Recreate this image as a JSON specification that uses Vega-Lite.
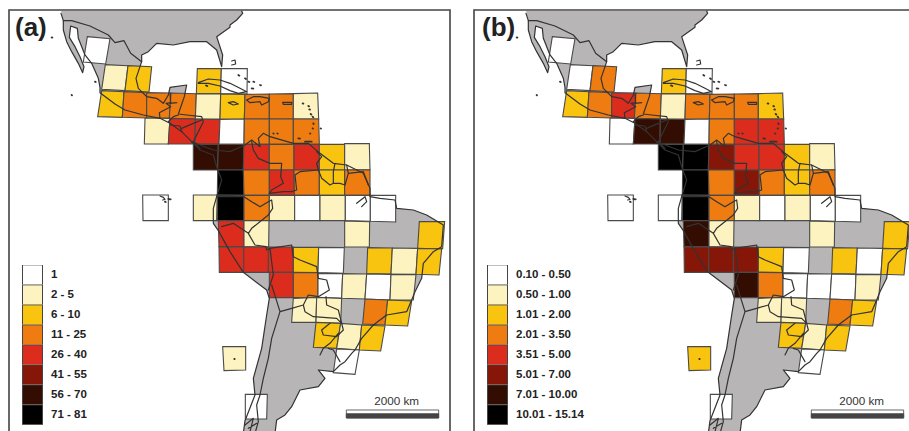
{"$schema":"https://vega.github.io/schema/vega-lite/v6.json","background":"white","padding":{"left":8,"top":9,"right":0,"bottom":0},"spacing":22,"config":{"font":"Liberation Sans"},
"datasets":{
"land":[
{"type":"Feature","properties":{"n":"north"},"geometry":{"type":"Polygon","coordinates":[[[183,33],[190,62],[190,90],[200,125],[215,155],[235,190],[248,218],[252,200],[240,170],[225,140],[208,112],[212,78],[232,85],[235,115],[255,165],[275,190],[295,235],[300,262],[300,278],[345,312],[375,330],[430,345],[480,355],[510,370],[545,395],[575,425],[590,435],[600,445],[580,425],[610,365],[605,350],[560,345],[535,342],[553,290],[560,255],[510,262],[505,285],[490,310],[470,295],[440,290],[415,265],[408,235],[420,200],[425,185],[425,165],[445,155],[470,130],[520,135],[570,125],[620,125],[650,150],[665,200],[668,165],[650,110],[690,82],[690,75],[710,60],[728,40],[725,33],[183,33]]]}},
{"type":"Feature","properties":{"n":"south"},"geometry":{"type":"Polygon","coordinates":[[[575,425],[600,450],[640,465],[650,500],[665,540],[650,590],[640,625],[640,670],[655,692],[690,755],[730,817],[800,870],[808,895],[800,945],[785,1045],[760,1135],[765,1185],[735,1262],[730,1300],[825,1300],[830,1260],[855,1245],[875,1220],[900,1170],[955,1160],[975,1135],[955,1110],[1000,1115],[1020,1095],[1035,1085],[1055,1060],[1065,1050],[1085,1015],[1120,975],[1160,945],[1220,935],[1235,900],[1245,875],[1265,835],[1270,790],[1300,755],[1325,740],[1330,675],[1280,645],[1240,630],[1190,625],[1185,600],[1140,595],[1110,590],[1110,565],[1090,520],[1040,495],[1000,490],[960,460],[925,430],[880,430],[810,410],[790,400],[775,415],[780,440],[755,420],[735,435],[690,455],[640,450],[600,435],[575,425]]]}}
],
"lines":[
{"type":"Feature","properties":{"n":"north coast"},"geometry":{"type":"MultiLineString","coordinates":[[[183,40],[190,62],[190,90],[200,125],[215,155],[235,190],[248,218],[252,200],[240,170],[225,140],[208,112],[212,78],[232,85],[235,115],[255,165],[275,190],[295,235],[300,262],[300,278],[345,312],[375,330],[430,345],[480,355],[510,370],[545,395],[575,425],[590,435],[600,445]],[[600,445],[580,425],[610,365],[605,350],[560,345],[535,342],[553,290],[560,255],[510,262],[505,285],[490,310],[470,295],[440,290],[415,265],[408,235],[420,200],[425,185],[425,165],[445,155],[470,130],[520,135],[570,125],[620,125],[650,150],[665,200],[668,165],[650,110],[690,82],[690,75],[710,60],[728,40],[725,33]]]}},
{"type":"Feature","properties":{"n":"south coast"},"geometry":{"type":"LineString","coordinates":[[575,425],[600,450],[640,465],[650,500],[665,540],[650,590],[640,625],[640,670],[655,692],[690,755],[730,817],[800,870],[808,895],[800,945],[785,1045],[760,1135],[765,1185],[735,1262],[730,1300]]}},
{"type":"Feature","properties":{"n":"south coast east"},"geometry":{"type":"LineString","coordinates":[[825,1300],[830,1260],[855,1245],[875,1220],[900,1170],[955,1160],[975,1135],[955,1110],[1000,1115],[1020,1095],[1035,1085],[1055,1060],[1065,1050],[1085,1015],[1120,975],[1160,945],[1220,935],[1235,900],[1245,875],[1265,835],[1270,790],[1300,755],[1325,740],[1330,675],[1280,645],[1240,630],[1190,625],[1185,600],[1140,595],[1110,590],[1110,565],[1090,520],[1040,495],[1000,490],[960,460],[925,430],[880,430],[810,410],[790,400],[775,415],[780,440],[755,420],[735,435],[690,455],[640,450],[600,435],[575,425]]}},
{"type":"Feature","properties":{"n":"borders"},"geometry":{"type":"MultiLineString","coordinates":[[[190,62],[215,62],[270,78],[325,105],[345,128],[372,122],[392,160],[425,185]],[[480,355],[478,338],[512,320],[498,310],[512,308],[510,280]],[[510,310],[530,308]],[[505,365],[520,350],[535,345]],[[510,375],[540,378],[545,395]],[[545,385],[580,370],[605,360]],[[755,425],[760,450],[775,475],[810,490],[845,490],[842,530],[850,550],[815,570],[808,580]],[[808,580],[850,575],[875,575],[890,570],[885,525],[900,515],[955,510],[950,490],[965,470],[950,455]],[[955,510],[965,535],[990,555],[1000,550],[1000,515],[1005,490]],[[1000,550],[1020,550],[1035,555],[1045,520],[1040,495]],[[1045,520],[1090,515],[1105,555]],[[732,590],[755,605],[780,620],[805,605],[815,600],[818,625],[805,645],[755,685],[745,700],[765,735],[798,740],[800,750],[810,745],[875,735],[880,770],[900,780],[950,800],[955,835],[980,840],[988,870],[955,890],[925,885],[910,915],[915,935],[940,950],[1010,955],[1025,970],[1030,990],[1010,1010],[970,1005],[965,990],[990,970]],[[978,890],[980,915],[1015,930],[1025,970]],[[810,745],[820,825],[810,855],[805,870]],[[815,855],[840,935],[875,925],[910,915]],[[840,935],[815,1015],[805,1075],[790,1135],[780,1185],[770,1215],[775,1265],[765,1300]],[[1015,1000],[990,1030],[970,1045],[960,1065]],[[985,1045],[1000,1050],[1020,1085]],[[650,590],[690,590],[732,590]],[[665,680],[700,670],[745,700]],[[735,1275],[760,1255],[750,1295]],[[745,1285],[770,1270]]]}},
{"type":"Feature","properties":{"n":"islands"},"geometry":{"type":"MultiLineString","coordinates":[[[595,248],[625,237],[660,240],[690,250],[720,265],[740,275],[715,280],[690,272],[660,258],[625,250],[595,250]],[[685,308],[700,305],[715,312],[700,315],[685,308]],[[740,300],[760,290],[780,290],[808,295],[805,305],[785,315],[780,305],[750,308],[740,300]],[[848,307],[875,307],[875,313],[850,313],[848,307]],[[695,183],[705,180],[707,192],[695,195]],[[480,588],[490,592],[495,598],[488,600]],[[1070,610],[1095,590],[1100,605],[1085,620]]]}}
],
"dots":[
{"type":"Feature","properties":{"n":"small islands"},"geometry":{"type":"MultiLineString","coordinates":[[[618,256],[622,258]],[[908,310],[910,311]],[[925,318],[927,319]],[[928,328],[930,329]],[[932,342],[934,344]],[[938,350],[940,352]],[[940,370],[941,372]],[[938,385],[939,386]],[[930,400],[931,401]],[[962,385],[963,386]],[[715,225],[718,227]],[[735,235],[738,237]],[[745,245],[748,246]],[[760,245],[763,246]],[[780,255],[783,256]],[[755,265],[760,266]],[[820,400],[821,401]],[[832,400],[833,401]],[[895,415],[900,416]],[[915,425],[935,425]],[[505,597],[512,598]],[[495,605],[497,606]],[[155,112],[157,113]],[[215,285],[216,286]],[[285,245],[287,246]],[[703,1077],[704,1077]]]}}
],
"cells":[
{"type":"Feature","properties":{"a":"1","b":"0.10 - 0.50"},"geometry":{"type":"Polygon","coordinates":[[[262,110],[330,116],[317,192],[250,186],[262,110]]]}},
{"type":"Feature","properties":{"a":"2 - 5","b":"0.10 - 0.50"},"geometry":{"type":"Polygon","coordinates":[[[316,194],[384,197],[375,272],[305,268],[316,194]]]}},
{"type":"Feature","properties":{"a":"6 - 10","b":"2.01 - 3.50"},"geometry":{"type":"Polygon","coordinates":[[[384,197],[455,200],[447,276],[375,272],[384,197]]]}},
{"type":"Feature","properties":{"a":"6 - 10","b":"1.01 - 2.00"},"geometry":{"type":"Polygon","coordinates":[[[592,206],[664,206],[662,281],[589,281],[592,206]]]}},
{"type":"Feature","properties":{"a":"1","b":"0.10 - 0.50"},"geometry":{"type":"Polygon","coordinates":[[[664,206],[742,206],[741,282],[662,281],[664,206]]]}},
{"type":"Feature","properties":{"a":"6 - 10","b":"1.01 - 2.00"},"geometry":{"type":"Polygon","coordinates":[[[305,272],[372,275],[367,352],[293,350],[305,272]]]}},
{"type":"Feature","properties":{"a":"11 - 25","b":"2.01 - 3.50"},"geometry":{"type":"Polygon","coordinates":[[[372,275],[440,278],[440,354],[367,352],[372,275]]]}},
{"type":"Feature","properties":{"a":"11 - 25","b":"3.51 - 5.00"},"geometry":{"type":"Polygon","coordinates":[[[440,278],[513,279],[508,355],[440,354],[440,278]]]}},
{"type":"Feature","properties":{"a":"11 - 25","b":"2.01 - 3.50"},"geometry":{"type":"Polygon","coordinates":[[[513,279],[589,281],[586,357],[508,355],[513,279]]]}},
{"type":"Feature","properties":{"a":"2 - 5","b":"0.50 - 1.00"},"geometry":{"type":"Polygon","coordinates":[[[589,281],[662,282],[660,358],[586,357],[589,281]]]}},
{"type":"Feature","properties":{"a":"6 - 10","b":"2.01 - 3.50"},"geometry":{"type":"Polygon","coordinates":[[[662,282],[735,283],[733,357],[660,358],[662,282]]]}},
{"type":"Feature","properties":{"a":"11 - 25","b":"2.01 - 3.50"},"geometry":{"type":"Polygon","coordinates":[[[735,283],[808,282],[808,357],[733,357],[735,283]]]}},
{"type":"Feature","properties":{"a":"11 - 25","b":"2.01 - 3.50"},"geometry":{"type":"Polygon","coordinates":[[[808,282],[880,281],[880,357],[808,357],[808,282]]]}},
{"type":"Feature","properties":{"a":"2 - 5","b":"1.01 - 2.00"},"geometry":{"type":"Polygon","coordinates":[[[880,281],[953,279],[956,357],[880,357],[880,281]]]}},
{"type":"Feature","properties":{"a":"2 - 5","b":"0.10 - 0.50"},"geometry":{"type":"Polygon","coordinates":[[[435,354],[510,355],[505,432],[433,432],[435,354]]]}},
{"type":"Feature","properties":{"a":"26 - 40","b":"7.01 - 10.00"},"geometry":{"type":"Polygon","coordinates":[[[510,355],[586,357],[585,432],[505,432],[510,355]]]}},
{"type":"Feature","properties":{"a":"26 - 40","b":"7.01 - 10.00"},"geometry":{"type":"Polygon","coordinates":[[[586,357],[660,358],[657,432],[585,432],[586,357]]]}},
{"type":"Feature","properties":{"a":"1","b":"0.10 - 0.50"},"geometry":{"type":"Polygon","coordinates":[[[660,358],[733,357],[732,433],[657,432],[660,358]]]}},
{"type":"Feature","properties":{"a":"11 - 25","b":"2.01 - 3.50"},"geometry":{"type":"Polygon","coordinates":[[[733,357],[808,357],[808,433],[732,433],[733,357]]]}},
{"type":"Feature","properties":{"a":"11 - 25","b":"3.51 - 5.00"},"geometry":{"type":"Polygon","coordinates":[[[808,357],[880,357],[880,433],[808,433],[808,357]]]}},
{"type":"Feature","properties":{"a":"11 - 25","b":"3.51 - 5.00"},"geometry":{"type":"Polygon","coordinates":[[[880,357],[956,357],[958,433],[880,433],[880,357]]]}},
{"type":"Feature","properties":{"a":"56 - 70","b":"10.01 - 15.14"},"geometry":{"type":"Polygon","coordinates":[[[580,433],[655,433],[653,510],[580,510],[580,433]]]}},
{"type":"Feature","properties":{"a":"56 - 70","b":"10.01 - 15.14"},"geometry":{"type":"Polygon","coordinates":[[[655,433],[732,433],[730,510],[653,510],[655,433]]]}},
{"type":"Feature","properties":{"a":"26 - 40","b":"5.01 - 7.00"},"geometry":{"type":"Polygon","coordinates":[[[732,433],[808,433],[808,510],[730,510],[732,433]]]}},
{"type":"Feature","properties":{"a":"11 - 25","b":"3.51 - 5.00"},"geometry":{"type":"Polygon","coordinates":[[[808,433],[882,433],[882,510],[808,510],[808,433]]]}},
{"type":"Feature","properties":{"a":"26 - 40","b":"3.51 - 5.00"},"geometry":{"type":"Polygon","coordinates":[[[882,433],[958,433],[958,510],[882,510],[882,433]]]}},
{"type":"Feature","properties":{"a":"6 - 10","b":"1.01 - 2.00"},"geometry":{"type":"Polygon","coordinates":[[[958,433],[1034,433],[1034,510],[958,510],[958,433]]]}},
{"type":"Feature","properties":{"a":"2 - 5","b":"0.50 - 1.00"},"geometry":{"type":"Polygon","coordinates":[[[1034,431],[1108,431],[1110,509],[1034,510],[1034,431]]]}},
{"type":"Feature","properties":{"a":"71 - 81","b":"10.01 - 15.14"},"geometry":{"type":"Polygon","coordinates":[[[653,510],[730,510],[732,586],[652,585],[653,510]]]}},
{"type":"Feature","properties":{"a":"11 - 25","b":"2.01 - 3.50"},"geometry":{"type":"Polygon","coordinates":[[[730,510],[808,510],[808,586],[732,586],[730,510]]]}},
{"type":"Feature","properties":{"a":"26 - 40","b":"5.01 - 7.00"},"geometry":{"type":"Polygon","coordinates":[[[808,510],[882,510],[883,586],[808,586],[808,510]]]}},
{"type":"Feature","properties":{"a":"11 - 25","b":"2.01 - 3.50"},"geometry":{"type":"Polygon","coordinates":[[[882,510],[958,510],[958,586],[883,586],[882,510]]]}},
{"type":"Feature","properties":{"a":"6 - 10","b":"1.01 - 2.00"},"geometry":{"type":"Polygon","coordinates":[[[958,510],[1034,510],[1034,586],[958,586],[958,510]]]}},
{"type":"Feature","properties":{"a":"11 - 25","b":"2.01 - 3.50"},"geometry":{"type":"Polygon","coordinates":[[[1034,510],[1110,510],[1110,586],[1034,586],[1034,510]]]}},
{"type":"Feature","properties":{"a":"1","b":"0.10 - 0.50"},"geometry":{"type":"Polygon","coordinates":[[[428,585],[505,585],[505,662],[429,662],[428,585]]]}},
{"type":"Feature","properties":{"a":"2 - 5","b":"0.10 - 0.50"},"geometry":{"type":"Polygon","coordinates":[[[580,585],[652,585],[650,662],[580,662],[580,585]]]}},
{"type":"Feature","properties":{"a":"71 - 81","b":"10.01 - 15.14"},"geometry":{"type":"Polygon","coordinates":[[[652,585],[732,586],[732,662],[652,662],[652,585]]]}},
{"type":"Feature","properties":{"a":"11 - 25","b":"2.01 - 3.50"},"geometry":{"type":"Polygon","coordinates":[[[732,586],[808,586],[808,662],[732,662],[732,586]]]}},
{"type":"Feature","properties":{"a":"2 - 5","b":"0.50 - 1.00"},"geometry":{"type":"Polygon","coordinates":[[[808,586],[884,586],[884,662],[808,662],[808,586]]]}},
{"type":"Feature","properties":{"a":"1","b":"0.10 - 0.50"},"geometry":{"type":"Polygon","coordinates":[[[884,586],[960,586],[960,662],[884,662],[884,586]]]}},
{"type":"Feature","properties":{"a":"2 - 5","b":"0.50 - 1.00"},"geometry":{"type":"Polygon","coordinates":[[[960,586],[1036,586],[1036,662],[960,662],[960,586]]]}},
{"type":"Feature","properties":{"a":"1","b":"0.10 - 0.50"},"geometry":{"type":"Polygon","coordinates":[[[1036,586],[1111,586],[1111,664],[1036,662],[1036,586]]]}},
{"type":"Feature","properties":{"a":"1","b":"0.10 - 0.50"},"geometry":{"type":"Polygon","coordinates":[[[1111,586],[1187,586],[1187,666],[1111,664],[1111,586]]]}},
{"type":"Feature","properties":{"a":"26 - 40","b":"7.01 - 10.00"},"geometry":{"type":"Polygon","coordinates":[[[655,662],[732,662],[732,740],[657,740],[655,662]]]}},
{"type":"Feature","properties":{"a":"2 - 5","b":"0.50 - 1.00"},"geometry":{"type":"Polygon","coordinates":[[[732,662],[807,662],[806,741],[732,740],[732,662]]]}},
{"type":"Feature","properties":{"a":"2 - 5","b":"0.50 - 1.00"},"geometry":{"type":"Polygon","coordinates":[[[1034,663],[1109,665],[1108,741],[1034,741],[1034,663]]]}},
{"type":"Feature","properties":{"a":"6 - 10","b":"1.01 - 2.00"},"geometry":{"type":"Polygon","coordinates":[[[1258,665],[1334,665],[1328,746],[1253,745],[1258,665]]]}},
{"type":"Feature","properties":{"a":"26 - 40","b":"5.01 - 7.00"},"geometry":{"type":"Polygon","coordinates":[[[657,740],[731,741],[731,817],[658,817],[657,740]]]}},
{"type":"Feature","properties":{"a":"26 - 40","b":"5.01 - 7.00"},"geometry":{"type":"Polygon","coordinates":[[[731,741],[806,741],[805,817],[731,817],[731,741]]]}},
{"type":"Feature","properties":{"a":"26 - 40","b":"5.01 - 7.00"},"geometry":{"type":"Polygon","coordinates":[[[805,741],[880,741],[880,817],[805,817],[805,741]]]}},
{"type":"Feature","properties":{"a":"6 - 10","b":"1.01 - 2.00"},"geometry":{"type":"Polygon","coordinates":[[[880,742],[956,742],[954,818],[880,817],[880,742]]]}},
{"type":"Feature","properties":{"a":"1","b":"0.10 - 0.50"},"geometry":{"type":"Polygon","coordinates":[[[956,742],[1033,743],[1030,820],[954,818],[956,742]]]}},
{"type":"Feature","properties":{"a":"6 - 10","b":"1.01 - 2.00"},"geometry":{"type":"Polygon","coordinates":[[[1103,743],[1177,744],[1173,822],[1100,821],[1103,743]]]}},
{"type":"Feature","properties":{"a":"2 - 5","b":"0.10 - 0.50"},"geometry":{"type":"Polygon","coordinates":[[[1177,744],[1253,745],[1248,823],[1173,822],[1177,744]]]}},
{"type":"Feature","properties":{"a":"6 - 10","b":"1.01 - 2.00"},"geometry":{"type":"Polygon","coordinates":[[[1253,745],[1325,747],[1317,825],[1248,823],[1253,745]]]}},
{"type":"Feature","properties":{"a":"26 - 40","b":"7.01 - 10.00"},"geometry":{"type":"Polygon","coordinates":[[[808,817],[880,817],[880,893],[808,893],[808,817]]]}},
{"type":"Feature","properties":{"a":"11 - 25","b":"2.01 - 3.50"},"geometry":{"type":"Polygon","coordinates":[[[880,817],[954,818],[954,892],[880,893],[880,817]]]}},
{"type":"Feature","properties":{"a":"1","b":"0.10 - 0.50"},"geometry":{"type":"Polygon","coordinates":[[[954,820],[1028,821],[1025,895],[954,892],[954,820]]]}},
{"type":"Feature","properties":{"a":"2 - 5","b":"0.10 - 0.50"},"geometry":{"type":"Polygon","coordinates":[[[1028,821],[1100,822],[1095,897],[1025,895],[1028,821]]]}},
{"type":"Feature","properties":{"a":"1","b":"0.10 - 0.50"},"geometry":{"type":"Polygon","coordinates":[[[1100,822],[1173,823],[1170,900],[1095,897],[1100,822]]]}},
{"type":"Feature","properties":{"a":"2 - 5","b":"0.50 - 1.00"},"geometry":{"type":"Polygon","coordinates":[[[1173,823],[1248,824],[1240,900],[1170,900],[1173,823]]]}},
{"type":"Feature","properties":{"a":"2 - 5","b":"0.50 - 1.00"},"geometry":{"type":"Polygon","coordinates":[[[880,895],[950,892],[948,967],[875,967],[880,895]]]}},
{"type":"Feature","properties":{"a":"2 - 5","b":"0.50 - 1.00"},"geometry":{"type":"Polygon","coordinates":[[[950,892],[1025,895],[1022,970],[948,967],[950,892]]]}},
{"type":"Feature","properties":{"a":"11 - 25","b":"2.01 - 3.50"},"geometry":{"type":"Polygon","coordinates":[[[1095,897],[1163,900],[1155,975],[1088,972],[1095,897]]]}},
{"type":"Feature","properties":{"a":"6 - 10","b":"1.01 - 2.00"},"geometry":{"type":"Polygon","coordinates":[[[1163,900],[1235,903],[1223,978],[1155,975],[1163,900]]]}},
{"type":"Feature","properties":{"a":"6 - 10","b":"1.01 - 2.00"},"geometry":{"type":"Polygon","coordinates":[[[948,967],[1022,970],[1010,1045],[940,1042],[948,967]]]}},
{"type":"Feature","properties":{"a":"2 - 5","b":"0.50 - 1.00"},"geometry":{"type":"Polygon","coordinates":[[[1022,970],[1085,975],[1078,1050],[1010,1045],[1022,970]]]}},
{"type":"Feature","properties":{"a":"6 - 10","b":"1.01 - 2.00"},"geometry":{"type":"Polygon","coordinates":[[[1085,975],[1155,978],[1142,1053],[1078,1050],[1085,975]]]}},
{"type":"Feature","properties":{"a":"1","b":"0.10 - 0.50"},"geometry":{"type":"Polygon","coordinates":[[[1010,1047],[1078,1050],[1065,1123],[1000,1118],[1010,1047]]]}},
{"type":"Feature","properties":{"a":"1","b":"0.10 - 0.50"},"geometry":{"type":"Polygon","coordinates":[[[736,1183],[802,1183],[800,1257],[736,1257],[736,1183]]]}},
{"type":"Feature","properties":{"a":"2 - 5","b":"1.01 - 2.00"},"geometry":{"type":"Polygon","coordinates":[[[668,1040],[737,1040],[737,1110],[672,1112],[668,1040]]]}}
],
"bar":[
{"type":"Feature","properties":{"part":"outer"},"geometry":{"type":"Polygon","coordinates":[[[1039,1230],[1316,1230],[1316,1254],[1039,1254],[1039,1230]]]}},
{"type":"Feature","properties":{"part":"lower"},"geometry":{"type":"Polygon","coordinates":[[[1039,1241],[1316,1241],[1316,1254],[1039,1254],[1039,1241]]]}}
]
},
"hconcat":[
{"width":441,"height":425,"view":{"stroke":"#444","strokeWidth":1.6},"projection":{"type":"identity","scale":0.33333,"translate":[-9,-10]},"layer":[
{"data":{"name":"land"},"mark":{"type":"geoshape","fill":"#b7b5b5","stroke":null,"clip":true}},
{"data":{"name":"cells"},"mark":{"type":"geoshape","stroke":"#4a4a4a","strokeWidth":1.1},"encoding":{"fill":{"field":"properties.a","type":"nominal","scale":{"domain":["1","2 - 5","6 - 10","11 - 25","26 - 40","41 - 55","56 - 70","71 - 81"],"range":["#ffffff","#fdf3c0","#f8c410","#ee7c10","#dc2c1e","#861608","#330d02","#000000"]},"legend":{"title":null,"orient":"none","legendX":13,"legendY":255,"symbolType":"square","symbolSize":400,"symbolStrokeColor":"#444","symbolStrokeWidth":1,"symbolOpacity":1,"rowPadding":0,"clipHeight":19.7,"labelFont":"Liberation Sans","labelFontSize":11.5,"labelFontWeight":"bold","labelColor":"#222","labelOffset":8,"values":["1","2 - 5","6 - 10","11 - 25","26 - 40","41 - 55","56 - 70","71 - 81"]}}}},
{"data":{"name":"lines"},"mark":{"type":"geoshape","filled":false,"stroke":"#333","strokeWidth":1.2,"strokeCap":"round","strokeJoin":"round","clip":true}},
{"data":{"name":"dots"},"mark":{"type":"geoshape","filled":false,"stroke":"#333","strokeWidth":1.8,"strokeCap":"round","clip":true}},
{"data":{"name":"bar"},"mark":{"type":"geoshape","stroke":"#444","strokeWidth":0.8},"encoding":{"fill":{"field":"properties.part","type":"nominal","scale":{"domain":["outer","lower"],"range":["#ffffff","#444444"]},"legend":null}}},
{"data":{"values":[{"E":45,"N":108,"t":"(a)"}]},"mark":{"type":"text","align":"left","baseline":"alphabetic","font":"Liberation Sans","fontWeight":"bold","fontSize":26,"color":"#222"},"encoding":{"longitude":{"field":"E","type":"quantitative"},"latitude":{"field":"N","type":"quantitative"},"text":{"field":"t","type":"nominal"}}},
{"data":{"values":[{"E":1190,"N":1215,"t":"2000 km"}]},"mark":{"type":"text","align":"center","baseline":"alphabetic","font":"Liberation Sans","fontSize":11.7,"color":"#333"},"encoding":{"longitude":{"field":"E","type":"quantitative"},"latitude":{"field":"N","type":"quantitative"},"text":{"field":"t","type":"nominal"}}}
],"resolve":{"scale":{"fill":"independent"}}},
{"width":441,"height":425,"view":{"stroke":"#444","strokeWidth":1.6},"projection":{"type":"identity","scale":0.33333,"translate":[-9,-10]},"layer":[
{"data":{"name":"land"},"mark":{"type":"geoshape","fill":"#b7b5b5","stroke":null,"clip":true}},
{"data":{"name":"cells"},"mark":{"type":"geoshape","stroke":"#4a4a4a","strokeWidth":1.1},"encoding":{"fill":{"field":"properties.b","type":"nominal","scale":{"domain":["0.10 - 0.50","0.50 - 1.00","1.01 - 2.00","2.01 - 3.50","3.51 - 5.00","5.01 - 7.00","7.01 - 10.00","10.01 - 15.14"],"range":["#ffffff","#fdf3c0","#f8c410","#ee7c10","#dc2c1e","#861608","#330d02","#000000"]},"legend":{"title":null,"orient":"none","legendX":13,"legendY":255,"symbolType":"square","symbolSize":400,"symbolStrokeColor":"#444","symbolStrokeWidth":1,"symbolOpacity":1,"rowPadding":0,"clipHeight":19.7,"labelFont":"Liberation Sans","labelFontSize":11.5,"labelFontWeight":"bold","labelColor":"#222","labelOffset":8,"values":["0.10 - 0.50","0.50 - 1.00","1.01 - 2.00","2.01 - 3.50","3.51 - 5.00","5.01 - 7.00","7.01 - 10.00","10.01 - 15.14"]}}}},
{"data":{"name":"lines"},"mark":{"type":"geoshape","filled":false,"stroke":"#333","strokeWidth":1.2,"strokeCap":"round","strokeJoin":"round","clip":true}},
{"data":{"name":"dots"},"mark":{"type":"geoshape","filled":false,"stroke":"#333","strokeWidth":1.8,"strokeCap":"round","clip":true}},
{"data":{"name":"bar"},"mark":{"type":"geoshape","stroke":"#444","strokeWidth":0.8},"encoding":{"fill":{"field":"properties.part","type":"nominal","scale":{"domain":["outer","lower"],"range":["#ffffff","#444444"]},"legend":null}}},
{"data":{"values":[{"E":51,"N":108,"t":"(b)"}]},"mark":{"type":"text","align":"left","baseline":"alphabetic","font":"Liberation Sans","fontWeight":"bold","fontSize":26,"color":"#222"},"encoding":{"longitude":{"field":"E","type":"quantitative"},"latitude":{"field":"N","type":"quantitative"},"text":{"field":"t","type":"nominal"}}},
{"data":{"values":[{"E":1190,"N":1215,"t":"2000 km"}]},"mark":{"type":"text","align":"center","baseline":"alphabetic","font":"Liberation Sans","fontSize":11.7,"color":"#333"},"encoding":{"longitude":{"field":"E","type":"quantitative"},"latitude":{"field":"N","type":"quantitative"},"text":{"field":"t","type":"nominal"}}}
],"resolve":{"scale":{"fill":"independent"}}}
]}
